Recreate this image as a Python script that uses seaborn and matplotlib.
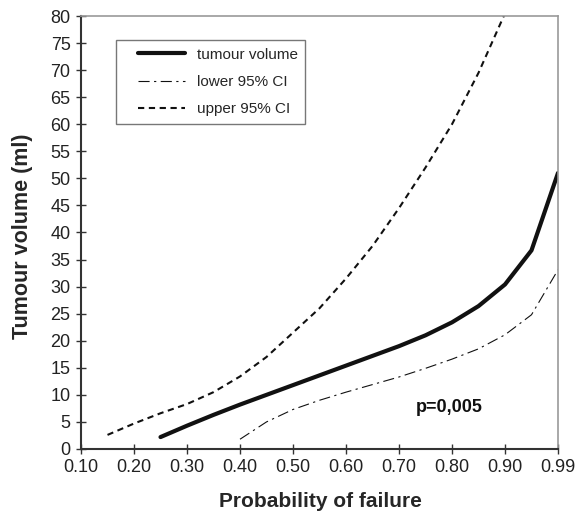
"""Tumour volume vs probability of failure, with 95% CI bands (Excel-style line chart)."""

import matplotlib
matplotlib.use("Agg")
import matplotlib.pyplot as plt
import pandas as pd
import seaborn as sns
from matplotlib.legend_handler import HandlerLine2D

# category axis (equally spaced, Excel style)
categories = ["0.10", "0.15", "0.20", "0.25", "0.30", "0.35", "0.40", "0.45", "0.50",
              "0.55", "0.60", "0.65", "0.70", "0.75", "0.80", "0.85", "0.90", "0.95", "0.99"]
tick_labels = ["0.10", "0.20", "0.30", "0.40", "0.50", "0.60", "0.70", "0.80", "0.90", "0.99"]

tumour_cats = ["0.25", "0.30", "0.35", "0.40", "0.45", "0.50", "0.55", "0.60", "0.65",
               "0.70", "0.75", "0.80", "0.85", "0.90", "0.95", "0.99"]
tumour_volume = [2.2, 4.3, 6.3, 8.2, 10.0, 11.8, 13.6, 15.4, 17.2,
                 19.0, 21.0, 23.4, 26.4, 30.4, 36.7, 51.0]

lower_cats = ["0.40", "0.45", "0.50", "0.55", "0.60", "0.65", "0.70", "0.75", "0.80",
              "0.85", "0.90", "0.95", "0.99"]
lower_ci = [1.8, 5.0, 7.3, 9.0, 10.5, 11.9, 13.3, 14.9, 16.6, 18.5, 21.1, 24.8, 33.1]

upper_cats = ["0.15", "0.20", "0.25", "0.30", "0.35", "0.40", "0.45", "0.50", "0.55",
              "0.60", "0.65", "0.70", "0.75", "0.80", "0.85", "0.90"]
upper_ci = [2.6, 4.7, 6.6, 8.3, 10.5, 13.4, 17.0, 21.5, 26.0,
            31.5, 37.5, 44.5, 52.0, 60.0, 69.5, 80.5]


def to_frame(cats, values):
    return pd.DataFrame({"pos": [categories.index(c) for c in cats], "value": values})


def main():
    sns.set_style("ticks")
    plt.rcParams["font.family"] = ["Liberation Sans", "DejaVu Sans"]

    fig = plt.figure(figsize=(5.87, 5.13), dpi=100)
    ax = fig.add_axes([0.138, 0.1248, 0.8126, 0.844])

    sns.lineplot(data=to_frame(tumour_cats, tumour_volume), x="pos", y="value", ax=ax,
                 color="#111111", lw=3.0, label="tumour volume")
    sns.lineplot(data=to_frame(lower_cats, lower_ci), x="pos", y="value", ax=ax,
                 color="#111111", lw=0.8, linestyle=(0, (10, 4, 2, 4)),
                 label="lower 95% CI")
    sns.lineplot(data=to_frame(upper_cats, upper_ci), x="pos", y="value", ax=ax,
                 color="#111111", lw=1.5, linestyle=(0, (3, 2.2)),
                 label="upper 95% CI")

    ax.set_xlim(0, len(categories) - 1)
    ax.set_ylim(0, 80)
    ax.set_xticks([categories.index(t) for t in tick_labels])
    ax.set_xticklabels(tick_labels)
    ax.set_yticks(range(0, 81, 5))
    ax.tick_params(direction="inout", length=7, width=1.0, labelsize=13,
                   color="#333333", labelcolor="#222222", pad=4)

    for side in ("left", "bottom"):
        ax.spines[side].set_color("#333333")
        ax.spines[side].set_linewidth(1.5)
    for side in ("top", "right"):
        ax.spines[side].set_visible(True)
        ax.spines[side].set_color("#999999")
        ax.spines[side].set_linewidth(1.2)

    ax.set_xlabel("Probability of failure", fontsize=15, fontweight="bold")
    ax.set_ylabel("Tumour volume (ml)", fontsize=15.5, fontweight="bold")
    ax.xaxis.set_label_coords(0.501, -0.122)
    ax.xaxis.label.set_va("center")
    ax.yaxis.set_label_coords(-0.123, 0.491)
    ax.yaxis.label.set_va("center")

    handles, labels = ax.get_legend_handles_labels()
    leg = ax.legend(handles, labels, loc="upper left", bbox_to_anchor=(0.0727, 0.9446),
                    borderaxespad=0, fontsize=11, fancybox=False, frameon=True,
                    handlelength=4.05, borderpad=0.5, labelspacing=0.87,
                    handletextpad=0.76,
                    handler_map={h: HandlerLine2D(xpad=0.94) for h in handles})
    leg.get_frame().set_edgecolor("#555555")
    leg.get_frame().set_linewidth(1.0)

    ax.text(0.771, 0.0947, "p=0,005", transform=ax.transAxes, ha="center", va="center",
            fontsize=13, fontweight="bold", color="#111111")

    fig.savefig("out.png", dpi=100)
    plt.close(fig)


if __name__ == "__main__":
    main()
